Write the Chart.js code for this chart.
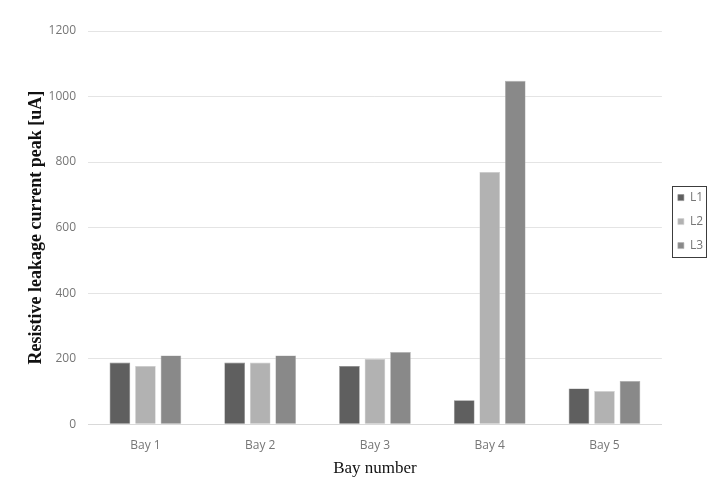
<!DOCTYPE html>
<html>
<head>
<meta charset="utf-8">
<script src="https://cdn.jsdelivr.net/npm/chart.js@4/dist/chart.umd.min.js"></script>
<style>
  html, body { margin: 0; padding: 0; background: #fff; }
  #wrap { width: 727px; height: 503px; }
</style>
</head>
<body>
<div id="wrap"><canvas id="chart" width="727" height="503"></canvas></div>
<script>
const bays = ['Bay 1', 'Bay 2', 'Bay 3', 'Bay 4', 'Bay 5'];
const l1 = [188, 188, 178, 73, 109];
const l2 = [178, 188, 199, 770, 101];
const l3 = [210, 210, 220, 1048, 132];
const yTicks = [0, 200, 400, 600, 800, 1000, 1200];

// place the legend beside the plot and frame it
const legendBorder = {
  id: 'legendBorder',
  afterLayout(chart) {
    const lg = chart.legend;
    if (!lg) return;
    lg.top = chart.chartArea.top;
    lg.bottom = chart.chartArea.bottom - 12;
    lg.left += 4;
    lg.right += 4;
  },
  afterDraw(chart) {
    const lg = chart.legend;
    if (!lg || !lg.legendHitBoxes.length) return;
    const boxes = lg.legendHitBoxes;
    const first = boxes[0];
    const last = boxes[boxes.length - 1];
    const ctx = chart.ctx;
    ctx.save();
    ctx.strokeStyle = '#3c3c3c';
    ctx.lineWidth = 1;
    ctx.strokeRect(Math.round(first.left - 6) + 0.5, Math.round(first.top - 6) + 0.5,
      34, Math.round(last.top + last.height - first.top + 11));
    ctx.restore();
  }
};

new Chart(document.getElementById('chart'), {
  type: 'bar',
  data: {
    labels: bays,
    datasets: [
      { label: 'L1', data: l1, backgroundColor: '#5f5f5f', borderColor: '#8a8a8a', borderWidth: 0.6 },
      { label: 'L2', data: l2, backgroundColor: '#b2b2b2', borderColor: '#d0d0d0', borderWidth: 0.6 },
      { label: 'L3', data: l3, backgroundColor: '#898989', borderColor: '#b0b0b0', borderWidth: 0.6 },
    ],
  },
  options: {
    responsive: false,
    animation: false,
    devicePixelRatio: 1,
    categoryPercentage: 0.667,
    barPercentage: 0.81,
    layout: { padding: { top: 31, right: 18, left: 24, bottom: 24 } },
    scales: {
      x: {
        grid: { display: false },
        border: { color: '#d9d9d9' },
        ticks: { color: '#767676', font: { family: 'Open Sans', size: 12 }, padding: 6 },
        title: {
          display: true,
          text: 'Bay number',
          color: '#111',
          font: { family: 'Liberation Serif', size: 17 },
          padding: { top: 0, bottom: 0 },
        },
      },
      y: {
        min: 0,
        max: 1200,
        afterBuildTicks(axis) { axis.ticks = yTicks.map((v) => ({ value: v })); },
        grid: { color: '#e4e4e4', drawTicks: false },
        border: { display: false },
        ticks: {
          color: '#767676',
          font: { family: 'Open Sans', size: 12 },
          padding: 12,
          callback: (v) => String(v),
        },
        title: {
          display: true,
          text: 'Resistive leakage current peak [uA]',
          color: '#111',
          font: { family: 'Liberation Serif', size: 18, weight: 'bold' },
          padding: { top: 2, bottom: -11 },
        },
      },
    },
    plugins: {
      legend: {
        position: 'right',
        labels: {
          boxWidth: 6,
          boxHeight: 6,
          padding: 12,
          color: '#767676',
          font: { family: 'Open Sans', size: 12 },
        },
      },
      tooltip: { enabled: false },
    },
  },
  plugins: [legendBorder],
});
</script>
</body>
</html>
